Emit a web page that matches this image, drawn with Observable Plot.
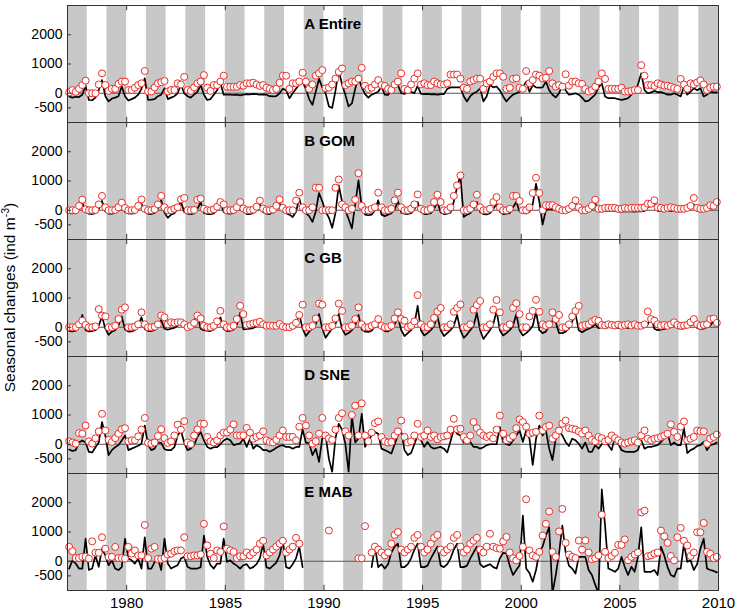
<!DOCTYPE html>
<html><head><meta charset="utf-8">
<script src="https://cdn.jsdelivr.net/npm/d3@7"></script>
<script src="https://cdn.jsdelivr.net/npm/@observablehq/plot@0.6"></script>
<style>body{margin:0;background:#fff;} #chart{width:738px;height:614px;}</style>
</head><body><div id="chart"></div>
<script>
const panels = ["A Entire", "B GOM", "C GB", "D SNE", "E MAB"];
const startYear = 1977, perYear = 6;
const bandYears = [1977,1979,1981,1983,1985,1987,1989,1991,1993,1995,1997,1999,2001,2003,2005,2007,2009];
const yTicks = [-500, 0, 1000, 2000];
const xTicks = [1980, 1985, 1990, 1995, 2000, 2005, 2010];

// A Entire
const entireLine = [
-110,-150,-120,-130,-50,250, -230,-240,-150,100,450,-100, -280,-180,-150,-100,230,-100, -250,-200,-150,-50,150,510,
-230,-220,-200,-100,-50,170, -200,-150,-100,0,300,0, -100,-150,-50,50,280,-50, -230,-200,-50,100,360,-50,
-50,-50,-60,-50,-70,-50, -30,-40,-20,-30,-50,-40, -50,-100,-110,-100,0,150, 100,-170,0,150,300,400,
150,-200,-400,50,490,200, 0,-450,-500,80,790,300, -50,-450,-350,150,530,200, -30,-150,-50,0,50,230,
-50,-60,100,230,280,0, -20,100,50,0,250,-20, -30,-20,-40,-30,-50,-30, -30,150,200,200,200,200,
-100,-280,-100,0,50,170, -280,-100,280,200,230,100, -110,-280,-150,-50,0,50, 200,400,50,280,200,190,
200,400,100,-50,-140,0, 280,100,-50,-30,0,-50, -150,-280,-250,-150,-50,200, 340,-110,-170,-170,-170,-200,
-230,-200,-170,-50,50,300, 680,110,0,30,80,40, 40,0,-50,-50,0,-50, -110,230,-50,50,170,100,
170,-110,-50,50,30,30];
const entireObs = [
30,110,50,150,280,430, 0,0,0,300,680,280, 80,150,150,320,400,400, 110,110,190,280,340,760,
60,60,200,340,380,420, 60,110,110,340,300,560, 110,80,200,340,400,620, 190,80,280,280,400,600,
220,220,220,220,280,260, 340,340,360,300,250,280, 190,150,110,150,360,600, 600,150,340,340,400,700,
400,150,300,600,680,790, 170,190,300,500,730,850, 280,340,400,400,500,870, 260,150,190,300,450,280,
250,150,110,300,400,680, 150,110,300,500,680,300, 340,280,280,400,340,300, 300,340,640,640,640,500,
190,150,400,450,500,500, 150,340,400,560,680,680, 565,150,190,490,510,190, 150,760,340,450,640,600,
510,530,760,340,225,280, 225,650,260,400,400,340, 320,150,60,110,225,400, 680,490,150,150,150,150,
190,60,60,80,110,110, 960,600,280,280,250,340, 300,260,260,225,180,150, 490,300,150,340,300,370,
440,300,110,190,225,225];

// B GOM
const gomLine = [
-100,-110,-90,30,250,-60, -120,-130,-100,40,320,-40, -120,-120,-90,-20,110,-60, -110,-120,-100,20,225,-50,
-120,-130,-90,60,340,-80, -260,-150,-100,50,300,-60, -120,-130,-110,40,280,-90, -130,-130,-110,30,250,-60,
-110,-120,-100,40,225,-40, -130,-130,-100,20,225,-70, -120,-130,-80,50,225,-40, -100,-150,-230,-50,400,-30,
-100,-200,-400,-50,590,300, -50,-250,-600,-100,850,300, 0,-300,-620,200,1020,100, -150,-170,-150,0,340,-150,
-200,-150,-100,20,320,-80, -120,-130,-100,30,280,-60, -130,-130,-100,50,280,-80, -130,-120,-80,300,800,1190,
-230,-150,-100,50,280,-60, -130,-140,-100,40,225,-50, -130,-120,-100,100,280,-40, -100,-110,-60,200,900,300,
-490,0,50,30,0,-50, -60,-80,-60,50,250,-30, -70,-80,-60,50,250,-40, -40,-30,-30,-20,-30,-40,
-50,-40,-30,-40,-50,-30, -40,-20,100,150,250,-20, -30,-40,-20,-20,-30,-40, -40,-30,0,50,200,-30,
-40,-30,0,50,150,200];
const gomObs = [
0,0,0,150,360,30, 0,0,10,200,490,100, 0,0,10,100,260,80, 0,0,10,150,370,50,
0,0,30,200,490,100, 0,0,50,100,370,420, 0,0,10,360,400,50, 0,0,30,120,280,200,
0,0,10,100,280,60, 0,0,20,120,330,60, 0,0,20,150,370,80, 0,0,0,330,600,100,
0,0,100,770,770,0, 0,0,0,770,1050,200, 100,0,50,360,1265,150, 0,0,50,100,600,100,
0,0,50,340,600,100, 0,0,50,200,540,50, 0,0,50,280,530,280, 0,0,100,490,850,1190,
0,0,50,200,530,100, 0,0,50,280,450,100, 0,0,50,490,490,320, 0,0,100,590,1110,590,
0,170,170,170,100,50, 0,0,50,150,340,100, 0,0,50,150,360,50, 50,80,80,80,80,50,
50,80,60,80,80,80, 80,100,225,225,340,100, 80,50,80,100,80,50, 50,50,80,150,420,80,
50,50,80,170,150,280];

// C GB
const gbLine = [
-130,-140,-120,50,420,-100, -140,-130,-100,60,370,-50, -260,-150,-100,50,370,-80, -150,-140,-100,30,340,-60,
-130,-130,-100,20,250,-50, -80,-50,-20,50,110,0, -60,-50,200,450,-50,-100, -120,-130,-80,60,340,-60,
-130,-120,-80,80,490,-70, -60,-50,-30,50,170,0, -30,-20,-30,-20,110,-30, -60,-80,-50,100,450,-50,
-300,-150,-50,100,450,-50, -360,-200,-50,100,450,-50, -260,-200,-100,50,420,-80, -150,-160,-120,30,225,-60,
-130,-140,-80,100,340,-100, -300,-200,-100,100,730,-100, -280,-200,-100,50,370,-100, -300,-200,-100,50,420,-100,
-360,-250,-100,50,490,-100, -400,-250,-100,100,560,-100, -280,-200,-100,50,450,-100, -280,-200,-100,50,530,-100,
-200,-150,50,225,170,-200, -200,-150,-50,200,450,-100, -170,-100,-50,0,110,-30, 0,-20,0,20,-10,-30,
-20,0,-30,0,80,-20, -20,0,100,360,-50,-100, -80,-60,-20,50,170,-30, -50,-40,0,50,110,-20,
-60,-50,0,50,225,100];
const gbObs = [
0,0,0,100,225,80, 0,0,30,620,400,370, 0,0,50,280,600,680, 0,0,20,100,510,100,
0,0,20,100,400,340, 100,170,150,170,170,100, 0,50,150,400,300,50, 0,0,50,200,560,100,
0,0,50,280,730,450, 80,100,130,150,190,100, 50,60,50,50,110,30, 0,0,50,150,420,770,
0,0,50,300,810,770, 0,0,50,300,810,560, 0,0,50,280,680,100, 0,0,50,100,280,50,
0,0,50,300,510,280, 225,0,50,200,1100,100, 0,0,100,320,530,660, 0,0,100,530,660,780,
0,0,100,600,760,900, 0,0,100,600,930,510, 0,0,100,660,820,450, 0,0,370,560,940,530,
100,50,100,510,280,420, 0,0,100,370,560,730, 50,80,100,190,250,220, 80,60,100,80,60,90,
50,80,100,60,100,50, 50,100,540,280,225,100, 50,80,50,100,170,80, 50,60,80,170,280,100,
50,80,100,280,300,150];

// D SNE
const sneLine = [
-180,-230,-200,60,130,60, -260,-280,-100,60,760,300, -370,-200,-100,-30,130,300, -200,-150,-100,-50,20,640,
-30,-200,-150,60,50,-170, -200,-200,-100,300,470,50, -200,-150,-30,250,420,130, -90,-150,-100,-100,0,130,
190,135,-30,0,30,190, -90,190,-150,-30,-90,-200, -200,-260,-200,-120,-60,-30, -90,-90,-150,-90,-90,510,
60,30,-370,-150,-600,200, 300,-500,-940,200,700,500, 20,-940,980,60,200,1040, -90,135,300,420,360,-150,
-200,-260,-320,0,300,440, -200,-370,-300,0,300,140, -90,80,-90,-150,-120,-90, -150,-280,100,510,360,300,
60,270,80,-90,-90,-150, -100,-30,0,0,0,590, 80,0,-30,130,300,470, 80,470,190,-710,190,640,
300,470,-150,-540,190,470, 300,80,-60,190,135,20, -150,60,-250,-260,-30,-150, 0,60,-30,-200,250,20,
-200,-250,-260,-260,-260,-200, 135,-150,-90,-90,-60,-30, 80,200,360,-30,60,-30, -30,550,-300,-200,-150,-60,
-30,80,-200,-30,0,60];
const sneObs = [
100,60,20,380,360,640, 100,20,200,440,1040,470, 150,80,210,360,510,550, 100,135,135,270,500,900,
50,20,60,280,510,210, 45,100,300,670,500,790, 60,0,300,510,700,700, 250,100,60,135,300,400,
400,500,680,300,300,300, 560,400,190,250,300,440, 135,80,60,150,300,470, 250,250,250,135,600,900,
640,300,20,100,360,900, 300,200,150,500,900,1060, 440,300,1000,1320,300,1400, 300,100,400,720,780,250,
100,60,80,300,440,810, 250,60,100,300,700,250, 300,470,250,300,170,250, 270,300,500,870,510,530,
250,135,300,760,550,400, 300,250,300,200,500,980, 360,135,200,280,550,850, 760,600,360,400,420,980,
470,590,640,190,300,470, 700,810,550,530,500,440, 360,470,300,150,100,250, 210,100,150,300,210,135,
60,20,60,100,135,60, 300,470,190,135,190,210, 250,300,360,680,420,250, 600,780,135,190,250,470,
440,440,20,190,250,330];

// E MAB
const mabLine = [
-250,30,-80,-250,-250,770, -300,-250,200,-190,430,200, -135,30,-250,-300,-200,770, 90,30,-80,90,-250,820,
-250,-250,-30,90,-300,770, -80,-250,-190,-135,90,150, -190,-250,-250,-250,-200,880, 150,-135,-250,-80,-80,770,
-20,30,-80,-150,-250,-135, -100,-250,-200,-100,100,600, -200,-250,-150,-50,200,700, -200,-250,-100,100,500,-200,
null,null,null,null,null,null, null,null,null,null,null,null, null,null,null,null,null,null, null,null,-200,500,-200,-100,
-250,-100,300,500,600,-200, -200,-100,100,400,600,-200, -200,-150,100,300,500,-150, -200,-100,100,400,600,-200,
-200,-150,100,300,500,-100, -200,-150,-100,-200,-250,100, 290,260,-150,-470,-300,-135, 1560,-250,-400,-700,-300,320,
500,880,1160,-1100,-470,260, 1220,300,-150,-250,-420,150, 150,150,-300,-470,-800,-1100, 2460,1220,-250,-300,-360,-250,
150,-200,-470,-190,-360,150, 1160,-360,-360,-360,-300,-470, 490,200,-200,-470,-530,-250, -250,600,-20,30,-300,-100,
430,770,-250,-300,-330,-380];
const mabObs = [
490,340,110,110,150,150, 90,680,290,290,820,430, 150,150,490,110,110,90, 490,260,370,200,200,1240,
110,430,490,80,80,110, 230,260,340,370,370,820, 170,170,200,200,230,1280, 540,260,110,370,320,1190,
430,370,320,110,170,170, 300,200,300,400,600,700, 200,300,400,500,600,700, 300,400,500,800,600,null,
null,null,null,null,null,null, null,1050,null,null,null,null, null,null,null,null,100,100, 1200,null,300,500,400,300,
200,300,600,900,1000,400, 300,400,500,800,900,500, 300,400,600,800,900,400, 300,400,500,800,900,500,
300,400,600,700,800,400, 300,500,940,500,450,430, 680,830,300,100,30,180, 490,2120,370,200,150,320,
880,1280,1700,320,150,1020, 1790,630,230,150,110,710, 400,710,300,70,100,200, 1590,320,110,180,290,560,
560,745,30,150,230,300, 1670,1730,170,200,260,300, 1050,850,630,180,30,820, 1140,700,540,180,300,990,
990,1310,320,260,110,150];

const series = [
  [panels[0], entireLine, entireObs],
  [panels[1], gomLine, gomObs],
  [panels[2], gbLine, gbObs],
  [panels[3], sneLine, sneObs],
  [panels[4], mabLine, mabObs]
];
const rows = series.flatMap(([panel, line, obs]) =>
  line.map((v, i) => ({panel, t: startYear + (i + 0.5) / perYear, line: v, obs: obs[i]})));

const H = 614, mT = 3, mB = 22;
const facetH = (H - mT - mB) / panels.length;
const tickLen = 6;

const chart = Plot.plot({
  width: 738, height: H,
  marginLeft: 67, marginRight: 20, marginTop: mT, marginBottom: mB,
  x: {domain: [1977, 2010]},
  y: {domain: [-1000, 3000]},
  fy: {domain: panels, padding: 0, axis: null},
  style: {fontFamily: "'Liberation Sans', Arial, sans-serif", fontSize: "14px", background: "white", color: "black"},
  marks: [
    Plot.rect(bandYears, {x1: d => d, x2: d => d + 1, fill: "#c8c8c8"}),
    Plot.ruleY([0], {stroke: "#555", strokeWidth: 1}),
    Plot.line(rows, {x: "t", y: "line", fy: "panel", stroke: "black", strokeWidth: 1.7, clip: true}),
    Plot.dot(rows, {x: "t", y: "obs", fy: "panel", r: 3.5, stroke: "#e8302a", fill: "white", strokeWidth: 1}),
    Plot.text(panels, {fy: d => d, text: d => d, x: 1989, frameAnchor: "top", dy: 13, textAnchor: "start", fontWeight: "bold", fontSize: 15}),
    Plot.tickX(xTicks, {x: d => d, stroke: "#333", insetBottom: facetH - tickLen}),
    Plot.tickX(xTicks, {x: d => d, stroke: "#333", insetTop: facetH - tickLen}),
    Plot.tickY(yTicks, {y: d => d, stroke: "#333", insetRight: 651 - 4}),
    Plot.frame({stroke: "#333"}),
    Plot.axisY(yTicks, {tickSize: 0, tickPadding: 5, label: null, fontSize: 14, tickFormat: d => String(d)}),
    Plot.axisX(xTicks, {tickSize: 0, tickPadding: 7, label: null, tickFormat: d => String(d), fontSize: 15})
  ]
});

const svg = d3.select(chart);
const lab = svg.append("text")
  .attr("transform", `translate(15,${mT + (H - mT - mB) / 2}) rotate(-90)`)
  .attr("text-anchor", "middle")
  .attr("font-family", "'Liberation Sans', Arial, sans-serif")
  .attr("font-size", 15.5)
  .attr("fill", "black");
lab.append("tspan").text("Seasonal changes (ind m");
lab.append("tspan").attr("font-size", 10.5).attr("dy", -6).text("-3");
lab.append("tspan").attr("dy", 6).text(")");

document.getElementById("chart").appendChild(chart);
</script>
</body></html>
